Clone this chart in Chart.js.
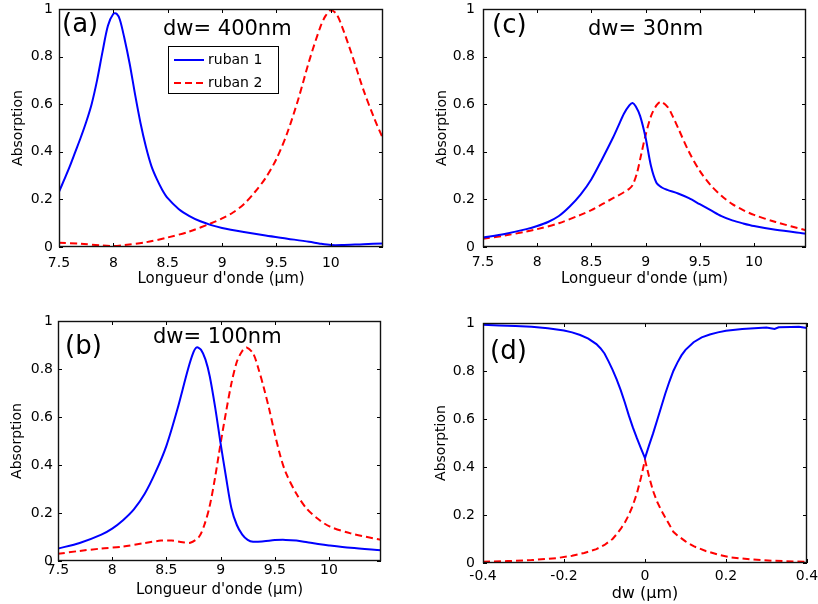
<!DOCTYPE html>
<html><head><meta charset="utf-8">
<script src="https://cdn.jsdelivr.net/npm/chart.js@4/dist/chart.umd.min.js"></script>
<style>
html,body{margin:0;padding:0;background:#fff;}
#wrap{position:relative;width:818px;height:604px;overflow:hidden;background:#fff;}
canvas{position:absolute;}
</style></head><body>
<div id="wrap">
<canvas id="ca" width="420" height="300" style="left:0;top:0"></canvas>
<canvas id="cc" width="398" height="300" style="left:420px;top:0"></canvas>
<canvas id="cb" width="420" height="304" style="left:0;top:300px"></canvas>
<canvas id="cd" width="398" height="304" style="left:420px;top:300px"></canvas>
</div>
<script>
// ---------- data ----------
const seriesLabels = ['ruban 1', 'ruban 2'];
const yTicks = [0, 0.2, 0.4, 0.6, 0.8, 1];
const wlTicks = [7.5, 8, 8.5, 9, 9.5, 10];
const dwTicks = [-0.4, -0.2, 0, 0.2, 0.4];

// (a) dw = 400 nm
const aX1 = [7.50,7.55,7.60,7.65,7.70,7.75,7.80,7.85,7.90,7.95,8.00,8.03,8.06,8.10,8.15,8.20,8.25,8.30,8.35,8.40,8.45,8.50,8.60,8.70,8.80,8.90,9.00,9.20,9.40,9.60,9.80,9.90,10.00,10.10,10.30,10.48];
const aY1 = [0.232,0.285,0.34,0.40,0.46,0.525,0.60,0.70,0.82,0.93,0.98,0.98,0.955,0.88,0.77,0.64,0.52,0.42,0.34,0.285,0.24,0.205,0.16,0.13,0.108,0.092,0.08,0.063,0.048,0.035,0.022,0.014,0.008,0.008,0.012,0.015];
const aX2 = [7.50,7.70,7.90,8.00,8.10,8.30,8.50,8.70,8.90,9.00,9.10,9.20,9.30,9.40,9.50,9.60,9.70,9.80,9.90,9.95,10.00,10.05,10.10,10.20,10.30,10.40,10.48];
const aY2 = [0.018,0.014,0.006,0.004,0.008,0.02,0.04,0.065,0.10,0.12,0.145,0.18,0.23,0.29,0.37,0.48,0.62,0.78,0.92,0.97,0.995,0.98,0.93,0.80,0.66,0.54,0.455];

// (c) dw = 30 nm
const cX1 = [7.50,7.70,7.90,8.00,8.10,8.20,8.30,8.40,8.50,8.60,8.70,8.75,8.80,8.85,8.88,8.91,8.95,9.00,9.05,9.10,9.15,9.20,9.30,9.40,9.50,9.60,9.70,9.80,9.90,10.00,10.20,10.48];
const cY1 = [0.040,0.055,0.075,0.088,0.105,0.13,0.17,0.22,0.285,0.37,0.46,0.51,0.56,0.595,0.605,0.59,0.55,0.46,0.34,0.27,0.25,0.24,0.225,0.205,0.18,0.155,0.13,0.112,0.099,0.088,0.072,0.056];
const cX2 = [7.50,7.70,7.90,8.00,8.20,8.40,8.50,8.60,8.70,8.80,8.85,8.88,8.92,8.96,9.00,9.05,9.10,9.14,9.20,9.25,9.30,9.40,9.50,9.60,9.70,9.80,9.90,10.00,10.20,10.48];
const cY2 = [0.035,0.048,0.065,0.075,0.10,0.135,0.155,0.18,0.205,0.23,0.245,0.26,0.31,0.39,0.47,0.55,0.595,0.61,0.59,0.55,0.50,0.40,0.32,0.26,0.215,0.18,0.155,0.135,0.105,0.07];

// (b) dw = 100 nm
const bX1 = [7.50,7.70,7.90,8.00,8.10,8.20,8.30,8.40,8.50,8.60,8.70,8.75,8.78,8.82,8.86,8.90,8.95,9.00,9.05,9.10,9.15,9.20,9.25,9.30,9.40,9.50,9.60,9.70,9.80,9.90,10.00,10.20,10.48];
const bY1 = [0.052,0.075,0.11,0.135,0.17,0.215,0.28,0.37,0.48,0.63,0.80,0.87,0.89,0.88,0.84,0.77,0.64,0.49,0.35,0.22,0.15,0.11,0.088,0.08,0.082,0.087,0.088,0.085,0.078,0.071,0.065,0.055,0.045];
const bX2 = [7.50,7.70,7.90,8.10,8.30,8.45,8.55,8.65,8.72,8.80,8.85,8.90,8.95,9.00,9.05,9.10,9.15,9.20,9.24,9.30,9.35,9.40,9.45,9.50,9.55,9.60,9.70,9.80,9.90,10.00,10.20,10.48];
const bY2 = [0.03,0.042,0.052,0.06,0.075,0.085,0.085,0.078,0.076,0.10,0.15,0.23,0.35,0.49,0.62,0.74,0.83,0.875,0.89,0.865,0.80,0.72,0.63,0.53,0.44,0.37,0.28,0.215,0.175,0.145,0.115,0.088];

// (d) absorption versus dw
const dX1 = [-0.40,-0.36,-0.32,-0.28,-0.24,-0.20,-0.18,-0.16,-0.14,-0.12,-0.11,-0.10,-0.09,-0.08,-0.07,-0.06,-0.05,-0.04,-0.03,-0.02,-0.01,0.00,0.01,0.02,0.03,0.04,0.05,0.06,0.07,0.08,0.09,0.10,0.12,0.14,0.16,0.18,0.20,0.24,0.28,0.30,0.32,0.33,0.36,0.38,0.40];
const dY1 = [0.993,0.99,0.988,0.984,0.978,0.969,0.961,0.95,0.935,0.912,0.895,0.873,0.84,0.805,0.765,0.72,0.67,0.615,0.565,0.52,0.478,0.437,0.49,0.54,0.595,0.65,0.705,0.755,0.80,0.835,0.865,0.888,0.92,0.94,0.952,0.961,0.968,0.975,0.979,0.981,0.975,0.982,0.983,0.984,0.979];
const dX2 = [-0.40,-0.34,-0.28,-0.22,-0.18,-0.15,-0.12,-0.10,-0.09,-0.08,-0.07,-0.06,-0.05,-0.04,-0.03,-0.02,-0.01,0.00,0.01,0.02,0.03,0.04,0.05,0.06,0.07,0.08,0.10,0.12,0.15,0.18,0.21,0.26,0.32,0.40];
const dY2 = [0.005,0.008,0.012,0.02,0.03,0.042,0.058,0.075,0.088,0.10,0.12,0.142,0.168,0.20,0.24,0.29,0.355,0.43,0.36,0.30,0.255,0.22,0.19,0.16,0.13,0.115,0.09,0.07,0.05,0.035,0.024,0.015,0.009,0.005];

// ---------- drawing ----------
const FONT = 'DejaVu Sans';
const BLUE = '#0000ff', RED = '#ff0000';

const framePlugin = {
  id: 'frame',
  afterDatasetsDraw(chart) {
    const {ctx, chartArea: ca, scales: {x, y}} = chart;
    const L = Math.round(ca.left), R = Math.round(ca.right), T = Math.round(ca.top), B = Math.round(ca.bottom);
    const tl = 4;
    ctx.save();
    ctx.strokeStyle = '#000';
    ctx.lineWidth = 1;
    ctx.beginPath();
    x.ticks.forEach(t => {
      const px = Math.round(x.getPixelForValue(t.value)) + 0.5;
      ctx.moveTo(px, B); ctx.lineTo(px, B - tl);
      ctx.moveTo(px, T); ctx.lineTo(px, T + tl);
    });
    y.ticks.forEach(t => {
      const py = Math.round(y.getPixelForValue(t.value)) + 0.5;
      ctx.moveTo(L, py); ctx.lineTo(L + tl, py);
      ctx.moveTo(R, py); ctx.lineTo(R - tl, py);
    });
    ctx.stroke();
    ctx.lineWidth = 1.4;
    ctx.strokeStyle = '#111';
    ctx.strokeRect(L + 0.5, T + 0.5, R - L - 1, B - T - 1);
    ctx.restore();
  },
  afterDraw(chart, args, opts) {
    const ctx = chart.ctx;
    ctx.save();
    ctx.fillStyle = '#000';
    ctx.textBaseline = 'alphabetic';
    ctx.textAlign = 'left';
    (opts.texts || []).forEach(t => {
      ctx.font = t.size + 'px "' + FONT + '"';
      ctx.fillText(t.text, t.x, t.y);
    });
    const lg = opts.legend;
    if (lg) {
      ctx.fillStyle = '#fff';
      ctx.fillRect(lg.x, lg.y, lg.w, lg.h);
      ctx.strokeStyle = '#000';
      ctx.lineWidth = 1;
      ctx.strokeRect(lg.x + 0.5, lg.y + 0.5, lg.w, lg.h);
      ctx.font = '14px "' + FONT + '"';
      ctx.textBaseline = 'middle';
      chart.data.datasets.forEach((ds, i) => {
        const yy = lg.y + lg.rowY[i];
        ctx.strokeStyle = ds.borderColor;
        ctx.lineWidth = ds.borderWidth;
        ctx.setLineDash(ds.borderDash || []);
        ctx.beginPath();
        ctx.moveTo(lg.x + 6, yy); ctx.lineTo(lg.x + 36, yy);
        ctx.stroke();
        ctx.setLineDash([]);
        ctx.fillStyle = '#000';
        ctx.fillText(ds.label, lg.x + 40, yy);
      });
    }
    ctx.restore();
  }
};

function makePanel(id, p) {
  const mk = (xs, ys, i) => ({
    label: seriesLabels[i],
    data: xs.map((v, k) => ({x: v, y: ys[k]})),
    borderColor: i === 0 ? BLUE : RED,
    borderWidth: 2,
    borderDash: i === 0 ? [] : [7, 4],
    pointRadius: 0,
    fill: false,
    tension: p.tension,
    cubicInterpolationMode: 'default'
  });
  return new Chart(document.getElementById(id), {
    type: 'line',
    data: {datasets: [mk(p.x1, p.y1, 0), mk(p.x2, p.y2, 1)]},
    options: {
      responsive: false, animation: false, events: [],
      layout: {padding: p.pad},
      plugins: {
        legend: {display: false}, tooltip: {enabled: false},
        frame: {texts: p.texts, legend: p.legend}
      },
      scales: {
        x: {
          type: 'linear', min: p.xmin, max: p.xmax,
          afterBuildTicks: sc => { sc.ticks = p.xt.map(v => ({value: v})); },
          afterFit: sc => { sc.height = p.xh; sc.paddingLeft = 0; sc.paddingRight = 0; },
          grid: {display: false, drawTicks: false}, border: {display: false},
          ticks: {autoSkip: false, maxRotation: 0, padding: p.xtp, color: '#000',
                  font: {family: FONT, size: 14}, callback: v => String(v)},
          title: {display: true, text: p.xlabel, color: '#000',
                  font: {family: FONT, size: p.xls}, padding: {top: 0, bottom: p.xlp}}
        },
        y: {
          type: 'linear', min: 0, max: 1,
          afterBuildTicks: sc => { sc.ticks = yTicks.map(v => ({value: v})); },
          afterFit: sc => { sc.width = p.yw; sc.paddingTop = 0; sc.paddingBottom = 0; },
          grid: {display: false, drawTicks: false}, border: {display: false},
          ticks: {autoSkip: false, padding: p.ytp, color: '#000',
                  font: {family: FONT, size: 14}, callback: v => String(v)},
          title: {display: true, text: 'Absorption', color: '#000',
                  font: {family: FONT, size: 14}, padding: {top: p.ylp, bottom: 0}}
        }
      }
    },
    plugins: [framePlugin]
  });
}

const WL = "Longueur d'onde (\u00b5m)";
makePanel('ca', {x1: aX1, y1: aY1, x2: aX2, y2: aY2, tension: 0.3, xmin: 7.5, xmax: 10.48, xt: wlTicks,
  pad: {left: 0, top: 9, right: 37, bottom: 0}, yw: 59, xh: 53, xtp: 8, xlp: 12, ytp: 6, ylp: 10,
  xlabel: WL, xls: 15,
  texts: [{text: '(a)', x: 62, y: 32, size: 26}, {text: 'dw= 400nm', x: 163, y: 35, size: 21}],
  legend: {x: 168, y: 46, w: 110, h: 47, rowY: [14, 37]}});
makePanel('cc', {x1: cX1, y1: cY1, x2: cX2, y2: cY2, tension: 0.3, xmin: 7.5, xmax: 10.48, xt: wlTicks,
  pad: {left: 0, top: 9, right: 12, bottom: 0}, yw: 63, xh: 53, xtp: 7, xlp: 12, ytp: 8, ylp: 14,
  xlabel: WL, xls: 15,
  texts: [{text: '(c)', x: 72, y: 33, size: 26}, {text: 'dw= 30nm', x: 168, y: 35, size: 21}]});
makePanel('cb', {x1: bX1, y1: bY1, x2: bX2, y2: bY2, tension: 0.3, xmin: 7.5, xmax: 10.48, xt: wlTicks,
  pad: {left: 0, top: 21, right: 39, bottom: 0}, yw: 58, xh: 43, xtp: 1, xlp: 5, ytp: 5, ylp: 9,
  xlabel: WL, xls: 15,
  texts: [{text: '(b)', x: 65, y: 54, size: 26}, {text: 'dw= 100nm', x: 153, y: 43, size: 21}]});
makePanel('cd', {x1: dX1, y1: dY1, x2: dX2, y2: dY2, tension: 0, xmin: -0.4, xmax: 0.4, xt: dwTicks,
  pad: {left: 0, top: 23, right: 11, bottom: 0}, yw: 63, xh: 41, xtp: 5, xlp: 1, ytp: 8, ylp: 13,
  xlabel: 'dw (\u00b5m)', xls: 16,
  texts: [{text: '(d)', x: 70, y: 59, size: 26}]});
</script>
</body></html>
